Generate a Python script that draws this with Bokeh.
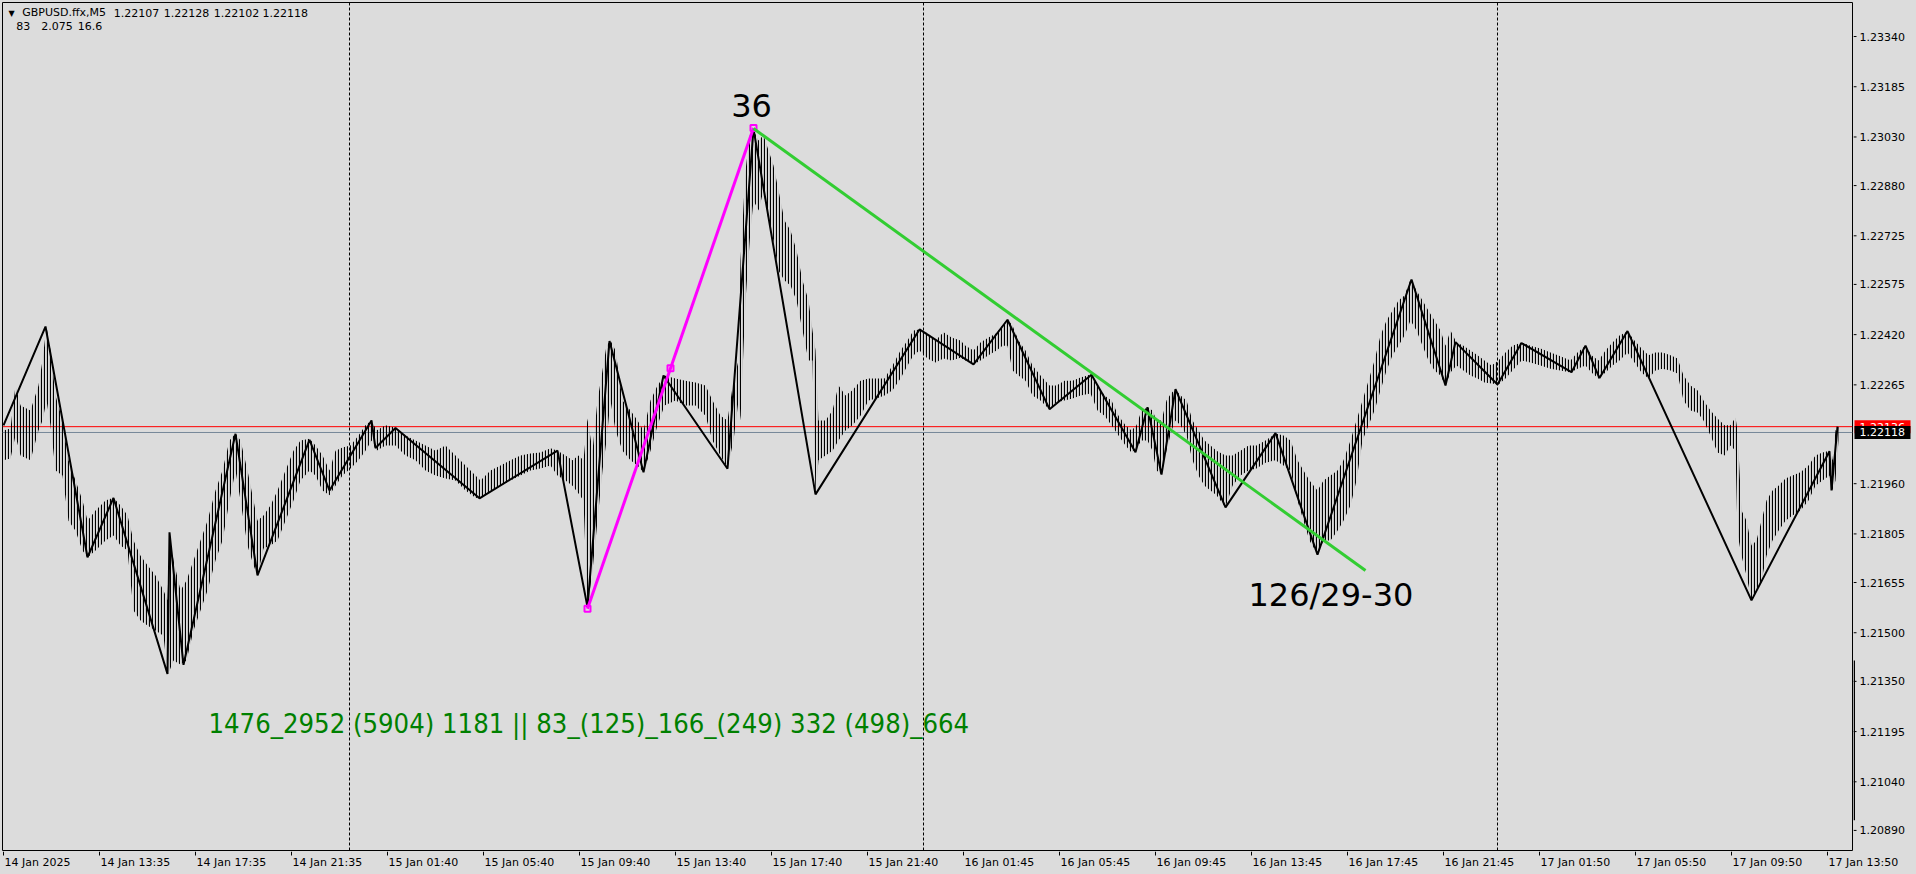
from bokeh.plotting import figure
from bokeh.layouts import column, row
from bokeh.models import Range1d, Span, GlobalInlineStyleSheet
from bokeh.core.properties import value
from bokeh.embed import file_html
from bokeh.resources import INLINE

# ---------------- data ----------------
tick_bars = [0, 48, 96, 144, 192, 240, 288, 336, 384, 432,
             480, 528, 576, 624, 672, 720, 768, 816, 864, 912]
tick_labels = ["14 Jan 2025", "14 Jan 13:35", "14 Jan 17:35", "14 Jan 21:35", "15 Jan 01:40",
               "15 Jan 05:40", "15 Jan 09:40", "15 Jan 13:40", "15 Jan 17:40", "15 Jan 21:40",
               "16 Jan 01:45", "16 Jan 05:45", "16 Jan 09:45", "16 Jan 13:45", "16 Jan 17:45",
               "16 Jan 21:45", "17 Jan 01:50", "17 Jan 05:50", "17 Jan 09:50", "17 Jan 13:50"]
price_ticks = [1.23340, 1.23185, 1.23030, 1.22880, 1.22725, 1.22575, 1.22420, 1.22265,
               1.21960, 1.21805, 1.21655, 1.21500, 1.21350, 1.21195, 1.21040, 1.20890]
day_sep_bars = [173, 460, 747]
ask_price = 1.22136
bid_price = 1.22118

# price bars: local low/high envelope along the bar index
band_bar = [0, 3.5, 6, 8.5, 13.5, 17.5, 19.5, 21.5, 23.5, 26,
            29.5, 32.5, 36, 39.5, 42, 46, 51, 55, 58.5, 62,
            65, 68.5, 72, 76, 80, 82, 83, 85, 88.5, 91.5,
            95, 98.5, 102, 106, 109.5, 113, 116, 118.5, 122, 125,
            127, 130, 133.5, 137, 141, 145, 148.5, 153, 156, 159.5,
            163, 166, 169.5, 173.5, 177.5, 181, 184, 186.5, 191, 196,
            201, 206, 211, 216, 221, 226, 231, 236, 238.5, 243.5,
            248.5, 253.5, 258.5, 263.5, 268.5, 273.5, 277, 281, 284.5, 287.5,
            290, 292, 294.5, 297, 299.5, 301.5, 303.5, 306, 309.5, 313.5,
            317, 320, 323.5, 327, 330.5, 336, 341, 346, 351, 354.5,
            358.5, 362, 365, 367.5, 368.5, 371, 373.5, 375, 377.5, 380,
            382.5, 385, 387.5, 390.5, 393.5, 396.5, 399.5, 402.5, 404.5, 406,
            407.5, 411, 414.5, 417.5, 421, 424.5, 428.5, 432.5, 436.5, 440.5,
            444.5, 448.5, 452, 455, 458, 462, 466, 470, 474, 478.5,
            481, 485, 488.5, 492.5, 496.5, 499.5, 502, 504.5, 507.5, 511,
            514.5, 518.5, 523, 526.5, 530.5, 534.5, 538.5, 543.5, 547, 550.5,
            554, 557.5, 561, 564, 566.5, 569, 572, 574.5, 576.5, 579,
            581.5, 584, 586, 588.5, 591.5, 594.5, 597.5, 600.5, 603.5, 606.5,
            611, 614.5, 618.5, 622.5, 626.5, 631, 636, 640, 643.5, 647,
            650, 653, 657, 660, 663.5, 667, 670, 673.5, 676.5, 679.5,
            682.5, 685.5, 688.5, 691.5, 694.5, 697.5, 700.5, 703.5, 706.5, 709.5,
            712.5, 715.5, 718.5, 721, 723.5, 726.5, 730, 733.5, 737, 740.5,
            744, 747.5, 751, 754.5, 759, 763.5, 768.5, 773.5, 778.5, 783.5,
            787, 791, 794, 797.5, 801, 804.5, 808, 812, 815.5, 819,
            822.5, 826, 829.5, 833.5, 837, 840, 843.5, 847, 850, 853.5,
            857, 860.5, 863.5, 866, 867, 869, 871.5, 874, 876.5, 879,
            881.5, 884.5, 887.5, 891, 894.5, 898.5, 902.5, 906, 909.5, 913,
            914.5, 916, 917.5]
band_high = [1.22124, 1.22130, 1.22263, 1.22201, 1.22186, 1.22263, 1.22340, 1.22445, 1.22371, 1.22232,
             1.22155, 1.22032, 1.21970, 1.21908, 1.21846, 1.21877, 1.21908, 1.21917, 1.21893, 1.21862,
             1.21785, 1.21738, 1.21708, 1.21677, 1.21630, 1.21600, 1.21809, 1.21723, 1.21630, 1.21661,
             1.21723, 1.21785, 1.21846, 1.21939, 1.22001, 1.22093, 1.22115, 1.22093, 1.22001, 1.21908,
             1.21846, 1.21862, 1.21893, 1.21939, 1.22001, 1.22062, 1.22093, 1.22099, 1.22078, 1.22047,
             1.22001, 1.22062, 1.22072, 1.22078, 1.22109, 1.22140, 1.22155, 1.22124, 1.22140, 1.22133,
             1.22109, 1.22093, 1.22078, 1.22062, 1.22078, 1.22047, 1.22016, 1.21985, 1.21970, 1.22001,
             1.22016, 1.22032, 1.22047, 1.22053, 1.22056, 1.22069, 1.22062, 1.22047, 1.22032, 1.22047,
             1.22032, 1.22161, 1.22062, 1.22217, 1.22309, 1.22386, 1.22402, 1.22371, 1.22217, 1.22186,
             1.22155, 1.22124, 1.22217, 1.22263, 1.22294, 1.22285, 1.22278, 1.22272, 1.22263, 1.22217,
             1.22170, 1.22155, 1.22278, 1.22340, 1.22649, 1.22927, 1.23050, 1.23050, 1.23019, 1.23035,
             1.22988, 1.22942, 1.22865, 1.22772, 1.22741, 1.22680, 1.22587, 1.22525, 1.22433, 1.22371,
             1.22155, 1.22155, 1.22186, 1.22263, 1.22232, 1.22248, 1.22278, 1.22285, 1.22285, 1.22285,
             1.22325, 1.22371, 1.22402, 1.22433, 1.22436, 1.22424, 1.22402, 1.22427, 1.22411, 1.22402,
             1.22386, 1.22371, 1.22396, 1.22411, 1.22424, 1.22448, 1.22467, 1.22448, 1.22402, 1.22371,
             1.22325, 1.22294, 1.22263, 1.22263, 1.22278, 1.22278, 1.22288, 1.22297, 1.22263, 1.22232,
             1.22217, 1.22170, 1.22140, 1.22124, 1.22140, 1.22186, 1.22195, 1.22186, 1.22155, 1.22155,
             1.22217, 1.22241, 1.22251, 1.22232, 1.22217, 1.22155, 1.22124, 1.22093, 1.22078, 1.22062,
             1.22047, 1.22047, 1.22062, 1.22078, 1.22078, 1.22093, 1.22115, 1.22109, 1.22093, 1.22032,
             1.22001, 1.21970, 1.21939, 1.21970, 1.21985, 1.22001, 1.22032, 1.22093, 1.22155, 1.22217,
             1.22278, 1.22340, 1.22417, 1.22464, 1.22494, 1.22525, 1.22541, 1.22590, 1.22556, 1.22525,
             1.22494, 1.22464, 1.22433, 1.22386, 1.22433, 1.22396, 1.22386, 1.22371, 1.22356, 1.22340,
             1.22325, 1.22340, 1.22365, 1.22386, 1.22396, 1.22386, 1.22377, 1.22365, 1.22353, 1.22340,
             1.22365, 1.22386, 1.22356, 1.22340, 1.22371, 1.22396, 1.22417, 1.22430, 1.22402, 1.22377,
             1.22356, 1.22365, 1.22365, 1.22356, 1.22346, 1.22294, 1.22263, 1.22248, 1.22217, 1.22186,
             1.22161, 1.22140, 1.22140, 1.22164, 1.22124, 1.21877, 1.21846, 1.21769, 1.21785, 1.21846,
             1.21908, 1.21939, 1.21954, 1.21976, 1.21985, 1.21995, 1.22016, 1.22047, 1.22056, 1.22062,
             1.22032, 1.22124, 1.22136]
band_low = [1.22032, 1.22038, 1.22109, 1.22047, 1.22032, 1.22124, 1.22155, 1.22217, 1.22140, 1.22001,
            1.21985, 1.21846, 1.21815, 1.21754, 1.21732, 1.21754, 1.21785, 1.21800, 1.21769, 1.21754,
            1.21569, 1.21538, 1.21522, 1.21507, 1.21491, 1.21374, 1.21383, 1.21414, 1.21402, 1.21414,
            1.21507, 1.21569, 1.21630, 1.21723, 1.21785, 1.21908, 1.22001, 1.21908, 1.21769, 1.21708,
            1.21677, 1.21760, 1.21769, 1.21785, 1.21846, 1.21908, 1.21970, 1.22001, 1.21985, 1.21939,
            1.21924, 1.21954, 1.21985, 1.22007, 1.22032, 1.22062, 1.22093, 1.22062, 1.22078, 1.22078,
            1.22047, 1.22032, 1.22001, 1.21985, 1.21976, 1.21970, 1.21939, 1.21917, 1.21914, 1.21939,
            1.21954, 1.21970, 1.21985, 1.22001, 1.22007, 1.22016, 1.21985, 1.21970, 1.21954, 1.21930,
            1.21908, 1.21578, 1.21692, 1.21846, 1.22001, 1.22093, 1.22217, 1.22124, 1.22062, 1.22032,
            1.22016, 1.21995, 1.22062, 1.22140, 1.22201, 1.22217, 1.22201, 1.22201, 1.22170, 1.22093,
            1.22047, 1.22007, 1.22093, 1.22217, 1.22155, 1.22525, 1.22741, 1.22834, 1.22803, 1.22865,
            1.22772, 1.22710, 1.22618, 1.22587, 1.22572, 1.22525, 1.22433, 1.22340, 1.22340, 1.21927,
            1.22032, 1.22047, 1.22062, 1.22093, 1.22124, 1.22140, 1.22170, 1.22217, 1.22223, 1.22232,
            1.22248, 1.22285, 1.22325, 1.22356, 1.22371, 1.22346, 1.22334, 1.22346, 1.22340, 1.22349,
            1.22340, 1.22328, 1.22340, 1.22356, 1.22371, 1.22386, 1.22386, 1.22309, 1.22294, 1.22278,
            1.22232, 1.22217, 1.22189, 1.22211, 1.22217, 1.22223, 1.22232, 1.22238, 1.22186, 1.22170,
            1.22140, 1.22109, 1.22078, 1.22056, 1.22069, 1.22093, 1.22093, 1.22062, 1.22001, 1.21989,
            1.22062, 1.22124, 1.22155, 1.22140, 1.22109, 1.22032, 1.21985, 1.21954, 1.21939, 1.21924,
            1.21887, 1.21954, 1.21985, 1.22001, 1.22007, 1.22025, 1.22032, 1.22016, 1.22001, 1.21908,
            1.21846, 1.21785, 1.21742, 1.21785, 1.21785, 1.21815, 1.21846, 1.21893, 1.21970, 1.22093,
            1.22140, 1.22186, 1.22248, 1.22309, 1.22356, 1.22386, 1.22417, 1.22464, 1.22433, 1.22386,
            1.22340, 1.22309, 1.22294, 1.22263, 1.22303, 1.22325, 1.22309, 1.22294, 1.22285, 1.22272,
            1.22269, 1.22266, 1.22285, 1.22309, 1.22340, 1.22334, 1.22325, 1.22315, 1.22309, 1.22303,
            1.22315, 1.22325, 1.22303, 1.22285, 1.22303, 1.22325, 1.22340, 1.22365, 1.22334, 1.22303,
            1.22285, 1.22309, 1.22315, 1.22309, 1.22300, 1.22217, 1.22186, 1.22180, 1.22155, 1.22109,
            1.22056, 1.22047, 1.22078, 1.22062, 1.21806, 1.21738, 1.21677, 1.21600, 1.21630, 1.21661,
            1.21738, 1.21785, 1.21815, 1.21846, 1.21862, 1.21877, 1.21908, 1.21954, 1.21970, 1.21985,
            1.21939, 1.21970, 1.22093]

# zigzag indicator (black)
zz_bar = [0, 21, 42, 55, 82, 83, 90, 116, 127, 153, 163, 184, 186, 196, 238, 277,
          292, 303, 320, 330, 362, 375, 406, 458, 485, 502, 523, 544, 566, 572, 579, 586,
          611, 636, 657, 704, 721, 726, 747, 759, 784, 791, 798, 812, 874, 913, 914, 917]
zz_price = [1.22140, 1.22445, 1.21733, 1.21916, 1.21373, 1.21810, 1.21401, 1.22114,
            1.21677, 1.22095, 1.21939, 1.22155, 1.22070, 1.22132, 1.21915, 1.22062,
            1.21579, 1.22400, 1.21995, 1.22294, 1.22006, 1.23055, 1.21927, 1.22436,
            1.22328, 1.22466, 1.22190, 1.22296, 1.22057, 1.22196, 1.21988, 1.22252,
            1.21887, 1.22116, 1.21741, 1.22590, 1.22263, 1.22397, 1.22266, 1.22394,
            1.22304, 1.22386, 1.22286, 1.22431, 1.21600, 1.22060, 1.21939, 1.22136]

# magenta up-leg and its markers
mag_bar = [292, 375]
mag_price = [1.21574, 1.23058]
mag_mark_bar = [292, 333.5, 375]
mag_mark_price = [1.21574, 1.22316, 1.23058]

# green down-leg
grn_bar = [375, 681]
grn_price = [1.23056, 1.21692]

# texts
hdr_text = ["GBPUSD.ffx,M5", "1.22107", "1.22128", "1.22102", "1.22118", "83", "2.075", "16.6"]
hdr_bar = [9.35, 55.15, 80.15, 105.15, 129.5, 6.35, 18.85, 37.15]
hdr_price = [1.23413, 1.23413, 1.23413, 1.23413, 1.23413, 1.23372, 1.23372, 1.23372]
peak_label = "36"
peak_bar, peak_price = 374, 1.23127
count_label = "126/29-30"
count_bar, count_price = 622.5, 1.21616
info_label = "1476_2952 (5904) 1181 || 83_(125)_166_(249) 332 (498)_664"
info_bar, info_price = 102.5, 1.21221
scroll_top, scroll_bottom = 1.21414, 1.20921

# ---------------- layout geometry ----------------
BG = "#dcdcdc"
X0, X1 = -0.5, 924.5
Y0, Y1 = 1.20828, 1.23445
MAIN_W, MAIN_H = 1853, 851
RIGHT_W = 60
BOT_H = 20
frame_w = MAIN_W - 3
ppb = frame_w / (X1 - X0)

common = dict(output_backend="svg", toolbar_location=None, x_axis_location=None,
              y_axis_location=None, background_fill_color=BG, border_fill_color=BG)

# ---------------- main chart ----------------
p = figure(width=MAIN_W, height=MAIN_H, x_range=Range1d(X0, X1), y_range=Range1d(Y0, Y1),
           min_border_left=2, min_border_top=2, min_border_right=1, min_border_bottom=1,
           outline_line_color="black", outline_line_width=1, **common)
p.stylesheets = [GlobalInlineStyleSheet(css="html, body { background-color: #dcdcdc; }")]
p.grid.visible = False

for d in day_sep_bars:
    p.add_layout(Span(location=d, dimension="height", line_color="black",
                      line_dash="3 2", line_width=1, level="underlay"))
p.add_layout(Span(location=bid_price, dimension="width", line_color="#778899", line_width=1, level="underlay"))
p.add_layout(Span(location=ask_price, dimension="width", line_color="red", line_width=1, level="underlay"))

p.varea(x=band_bar, y1=band_low, y2=band_high, fill_color=None,
        hatch_pattern="vertical_line", hatch_color="black", hatch_scale=3, hatch_weight=1.2)

p.line(zz_bar, zz_price, line_color="black", line_width=2)
p.line(mag_bar, mag_price, line_color="#ff00ff", line_width=3)
p.scatter(mag_mark_bar, mag_mark_price, marker="square", size=6, line_color="#ff00ff",
          fill_color=None, line_width=2)
p.line(grn_bar, grn_price, line_color="#32cd32", line_width=3)

p.text(x=[4], y=[1.23411], text=["\u25bc"], text_font=value("DejaVu Sans"), text_font_size="8px",
       text_align="center", text_baseline="middle", text_color="black")
p.text(x=hdr_bar, y=hdr_price, text=hdr_text, text_font=value("DejaVu Sans"), text_font_size="11px",
       text_align="left", text_baseline="middle", text_color="black")
p.text(x=[peak_bar], y=[peak_price], text=[peak_label], text_font=value("DejaVu Sans"),
       text_font_size="32px", text_align="center", text_baseline="middle", text_color="black")
p.text(x=[count_bar], y=[count_price], text=[count_label], text_font=value("DejaVu Sans"),
       text_font_size="32px", text_align="left", text_baseline="middle", text_color="black")
p.text(x=[info_bar], y=[info_price], text=[info_label],
       text_font=value("DejaVu Sans Condensed"),
       text_font_size="27.2px", text_align="left", text_baseline="middle", text_color="#008000")

# ---------------- right price scale ----------------
pr = figure(width=RIGHT_W, height=MAIN_H, x_range=Range1d(0, RIGHT_W), y_range=p.y_range,
            min_border_left=0, min_border_right=0, min_border_top=2, min_border_bottom=1,
            outline_line_color=None, **common)
pr.grid.visible = False
pr.segment(x0=[0] * len(price_ticks), x1=[3] * len(price_ticks), y0=price_ticks, y1=price_ticks,
           line_color="black", line_width=1)
pr.text(x=[6] * len(price_ticks), y=price_ticks, text=[f"{t:.5f}" for t in price_ticks],
        text_font=value("DejaVu Sans"), text_font_size="11px", text_align="left",
        text_baseline="middle", text_color="black")
pr.quad(left=[0], right=[1.5], top=[scroll_top], bottom=[scroll_bottom], fill_color="black", line_color=None)
pr.rect(x=[29], y=[ask_price], width=56, height=13, width_units="screen", height_units="screen",
        fill_color="red", line_color=None)
pr.text(x=[6], y=[ask_price], text=[f"{ask_price:.5f}"], text_font=value("DejaVu Sans"),
        text_font_size="11px", text_align="left", text_baseline="middle", text_color="white")
pr.rect(x=[29], y=[bid_price], width=56, height=13, width_units="screen", height_units="screen",
        fill_color="black", line_color=None)
pr.text(x=[6], y=[bid_price], text=[f"{bid_price:.5f}"], text_font=value("DejaVu Sans"),
        text_font_size="11px", text_align="left", text_baseline="middle", text_color="white")

# ---------------- bottom time scale ----------------
bx0 = X0 - 2 / ppb
bx1 = bx0 + (MAIN_W + RIGHT_W) / ppb
pb = figure(width=MAIN_W + RIGHT_W, height=BOT_H, x_range=Range1d(bx0, bx1), y_range=Range1d(BOT_H, 0),
            min_border=0, outline_line_color=None, **common)
pb.grid.visible = False
pb.segment(x0=tick_bars, x1=tick_bars, y0=[0] * len(tick_bars), y1=[4] * len(tick_bars),
           line_color="black", line_width=1)
pb.text(x=tick_bars, y=[11] * len(tick_bars), text=tick_labels, x_offset=1,
        text_font=value("DejaVu Sans"), text_font_size="11px", text_align="left",
        text_baseline="middle", text_color="black")

layout = column(row(p, pr), pb)
open("out.html", "w").write(file_html(layout, INLINE))
